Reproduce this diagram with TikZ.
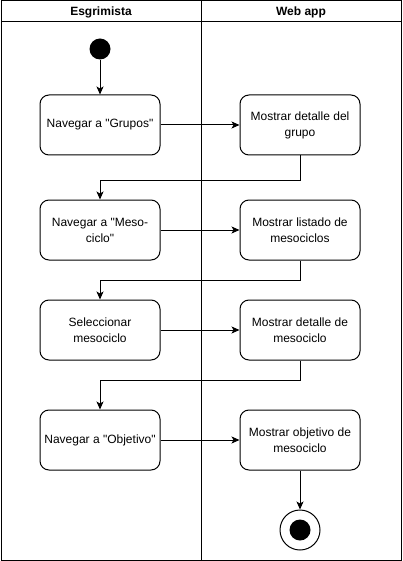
\documentclass[tikz,border=0pt]{standalone}
\usepackage{fontspec}
\setmainfont{Liberation Sans}[Ligatures=TeXOff]
\usetikzlibrary{arrows.meta,positioning}

\begin{document}
\begin{tikzpicture}[x=1pt,y=-1pt,
    action/.style={draw, line width=1pt, rounded corners=9pt, minimum width=120pt,
      minimum height=60pt, align=center, inner sep=2pt, font=\fontsize{12}{16}\selectfont},
    lane/.style={font=\fontsize{12}{14}\selectfont\bfseries},
    flow/.style={-{Stealth[length=8pt,width=7pt,inset=2pt]}, line width=1pt}]
    \useasboundingbox (0,0) rectangle (402,561);

    % Swimlanes
    \draw[line width=1pt] (1,1) rectangle (401,560);
    \draw[line width=1pt] (1,22) -- (401,22);
    \draw[line width=1pt] (201,1) -- (201,560);
    \node[lane] (esgrimista) at (101,12) {Esgrimista};
    \node[lane] (webapp) at (301,12) {Web app};

    % Start and end
    \node[circle, fill, minimum size=21pt, inner sep=0pt] (start) at (100,49) {};
    \node[circle, draw, line width=1pt, minimum size=40pt, inner sep=0pt] (stop) at (300,530) {};
    \node[circle, fill, minimum size=21pt, inner sep=0pt] (stopdot) at (stop) {};

    % Actions
    \node[action] (grupos) at (100,125) {Navegar a "Grupos"};
    \node[action] (meso) at (100,230) {Navegar a "Meso-\\ciclo"};
    \node[action] (selec) at (100,330) {Seleccionar\\mesociclo};
    \node[action] (objetivo) at (100,440) {Navegar a "Objetivo"};

    \node[action] (detgrupo) at (300,125) {Mostrar detalle del\\grupo};
    \node[action] (listado) at (300,230) {Mostrar listado de\\mesociclos};
    \node[action] (detmeso) at (300,330) {Mostrar detalle de\\mesociclo};
    \node[action] (objmeso) at (300,440) {Mostrar objetivo de\\mesociclo};

    % Flow
    \draw[flow] (start) -- (grupos);
    \draw[flow] (grupos) -- (detgrupo);
    \draw[flow] (detgrupo.south) -- ++(0,25) -| (meso.north);
    \draw[flow] (meso) -- (listado);
    \draw[flow] (listado.south) -- ++(0,20) -| (selec.north);
    \draw[flow] (selec) -- (detmeso);
    \draw[flow] (detmeso.south) -- ++(0,20) -| (objetivo.north);
    \draw[flow] (objetivo) -- (objmeso);
    \draw[flow] (objmeso) -- (stop);
\end{tikzpicture}
\end{document}
